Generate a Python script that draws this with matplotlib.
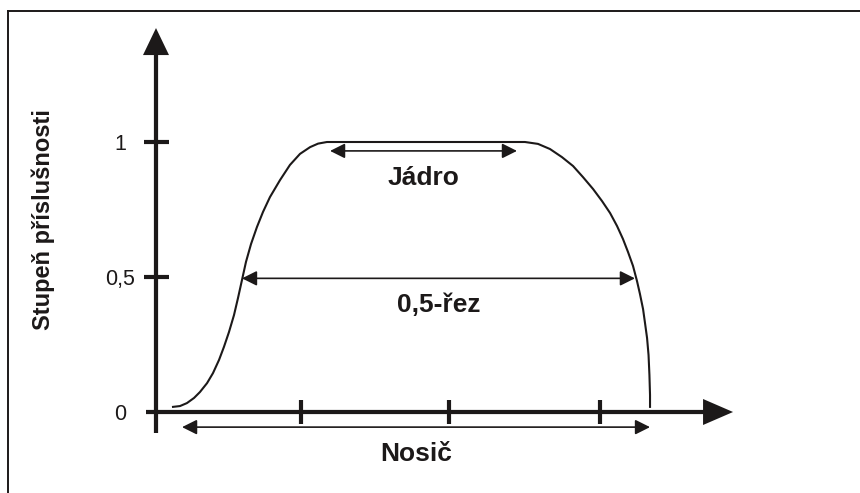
import matplotlib.pyplot as plt
from matplotlib.lines import Line2D

plt.rcParams['font.family'] = ['Liberation Sans', 'DejaVu Sans']

# membership function shape (x in tick units, y = degree of membership)
curve_x = [0.115, 0.162, 0.209, 0.257, 0.297, 0.345, 0.385, 0.426, 0.459, 0.493,
           0.527, 0.554, 0.581, 0.608, 0.642, 0.682, 0.723, 0.770, 0.838, 0.905,
           0.973, 1.041, 1.095, 1.155,
           2.493, 2.581, 2.662, 2.743, 2.818, 2.885, 2.953, 3.014, 3.068, 3.115,
           3.155, 3.189, 3.223, 3.250, 3.270, 3.291, 3.304, 3.318, 3.328, 3.334,
           3.338, 3.338]
curve_y = [0.019, 0.022, 0.033, 0.052, 0.074, 0.107, 0.144, 0.193, 0.241, 0.296,
           0.359, 0.422, 0.489, 0.556, 0.622, 0.685, 0.741, 0.796, 0.859, 0.915,
           0.956, 0.981, 0.994, 1.000,
           1.000, 0.993, 0.974, 0.944, 0.911, 0.870, 0.826, 0.781, 0.737, 0.689,
           0.641, 0.593, 0.541, 0.485, 0.437, 0.381, 0.330, 0.274, 0.211, 0.137,
           0.063, 0.019]

xticks = [0.98, 1.98, 3.0]
yticks = [0, 0.5, 1]
ytick_labels = ['0', '0,5', '1']

# (label, x start, x end, y level)
jadro = ('Jádro', 1.176, 2.439, 0.967)
rez = ('0,5-řez', 0.581, 3.236, 0.495)
nosic = ('Nosič', 0.176, 3.338, -0.056)

ylabel = 'Stupeň příslušnosti'

c = '#1c1919'
# pixel -> data scale
sx = 1 / 148.0
sy = 1 / 270.0

fig = plt.figure(figsize=(8.6, 4.93), dpi=100)
ax = fig.add_axes([0, 0, 1, 1])
ax.set_xlim(-156 * sx, (860 - 156) * sx)
ax.set_ylim(-(493 - 412) * sy, 412 * sy)
ax.axis('off')

# frame (top and left only)
fig.add_artist(Line2D([8 / 860, 1], [1 - 11 / 493, 1 - 11 / 493], color=c, lw=1.4))
fig.add_artist(Line2D([8 / 860, 8 / 860], [0, 1 - 11 / 493], color=c, lw=1.4))

# axes with arrow heads
x0, x1 = -10 * sx, 3.899
ax.arrow(x0, 0, x1 - x0, 0, width=4.2 * sy, head_width=26 * sy, head_length=30 * sx,
         length_includes_head=True, lw=0, color=c)
y0, y1 = -21 * sy, 1.422
ax.arrow(0, y0, 0, y1 - y0, width=4.2 * sx, head_width=26 * sx, head_length=27 * sy,
         length_includes_head=True, lw=0, color=c)

for t in xticks:
    ax.plot([t, t], [-12 * sy, 12 * sy], color=c, lw=3, solid_capstyle='butt')
for t, lab in zip(yticks, ytick_labels):
    if t > 0:
        ax.plot([-12 * sx, 13 * sx], [t, t], color=c, lw=3, solid_capstyle='butt')
    ax.text(-36 * sx, t - 8 * sy, lab, ha='center', va='baseline', fontsize=15.5, color=c)

ax.plot(curve_x, curve_y, color=c, lw=1.5, solid_joinstyle='round')

for lab, xa, xb, yl in [jadro, rez, nosic]:
    ax.annotate('', xy=(xb, yl), xytext=(xa, yl),
                arrowprops=dict(arrowstyle='<|-|>,head_length=9,head_width=4.5',
                                mutation_scale=1, lw=1.2, color=c,
                                shrinkA=0, shrinkB=0))
    ax.text((xa + xb) / 2, yl - 34 * sy, lab, ha='center', va='baseline',
            fontsize=19, fontweight='bold', color=c)

ax.text(-113 * sx, 0.711, ylabel, rotation=90, ha='center', va='center',
        fontsize=17, fontweight='bold', color=c)

fig.savefig('out.png', dpi=100)
